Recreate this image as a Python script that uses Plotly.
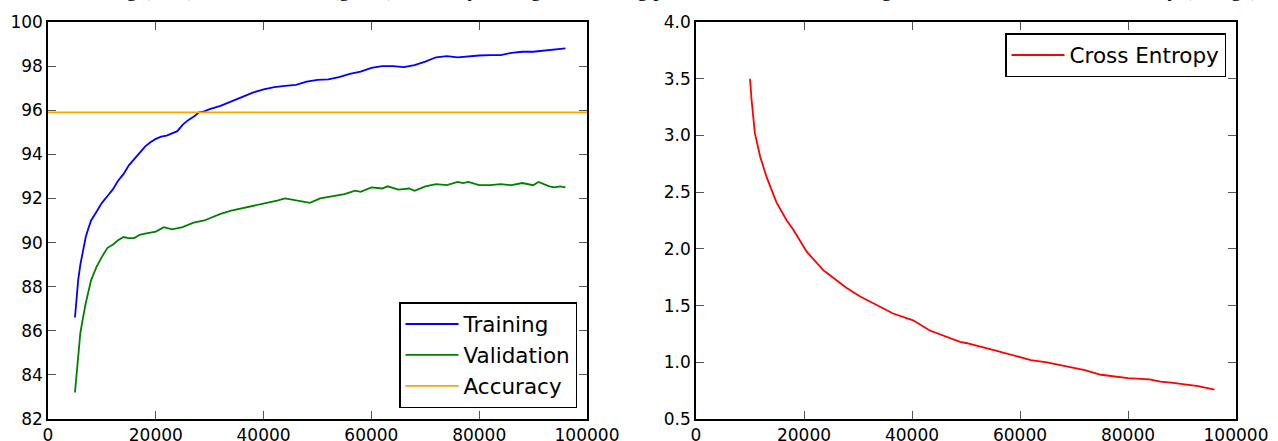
import plotly.graph_objects as go

# ---------------- data ----------------
train_x = [5000, 5300, 5600, 6000, 6500, 7000, 7500, 8000, 9000, 10000, 11000, 12000,
           13000, 14000, 15000, 16000, 17000, 18000, 19000, 20000, 21000, 22000, 23000,
           24000, 25000, 26000, 27000, 28000, 29000, 30000, 32000, 34000, 36000, 38000,
           40000, 42000, 44000, 46000, 48000, 50000, 52000, 54000, 56000, 58000, 60000,
           62000, 64000, 66000, 68000, 70000, 72000, 74000, 76000, 78000, 80000, 82000,
           84000, 86000, 88000, 90000, 92000, 94000, 96000]
train_y = [86.6, 87.6, 88.3, 89.0, 89.7, 90.25, 90.65, 91.0, 91.4, 91.8, 92.1, 92.4,
           92.8, 93.1, 93.5, 93.8, 94.1, 94.35, 94.55, 94.7, 94.8, 94.85, 94.95,
           95.05, 95.35, 95.55, 95.7, 95.9, 95.95, 96.05, 96.2, 96.4, 96.6, 96.8,
           96.95, 97.05, 97.1, 97.15, 97.3, 97.38, 97.4, 97.5, 97.65, 97.75, 97.92,
           98.0, 98.0, 97.95, 98.05, 98.2, 98.4, 98.45, 98.4, 98.45, 98.48, 98.5,
           98.5, 98.6, 98.65, 98.65, 98.7, 98.75, 98.8]

val_x = [5000, 5500, 6000, 6500, 7000, 8000, 9000, 10000, 11000, 12000, 13000, 14000,
         15000, 16000, 17000, 18000, 20000, 21500, 23000, 25000, 27000, 29000, 30000,
         32000, 34000, 36000, 38000, 40000, 42500, 44000, 46000, 48600, 50500, 53000,
         55000, 57000, 58000, 60000, 62000, 63000, 65000, 67000, 68000, 70000, 72000,
         74000, 76000, 77000, 78000, 80000, 82000, 84000, 86000, 88000, 90000, 91000,
         93000, 94000, 95000, 96000]
val_y = [83.2, 84.7, 85.9, 86.6, 87.25, 88.3, 88.9, 89.35, 89.75, 89.9, 90.1, 90.25,
         90.2, 90.2, 90.35, 90.4, 90.5, 90.7, 90.6, 90.7, 90.9, 91.0, 91.1,
         91.3, 91.45, 91.55, 91.65, 91.75, 91.9, 92.0, 91.9, 91.8, 92.0, 92.1,
         92.2, 92.35, 92.3, 92.5, 92.45, 92.55, 92.4, 92.45, 92.35, 92.55, 92.65,
         92.6, 92.75, 92.7, 92.75, 92.6, 92.6, 92.65, 92.6, 92.7, 92.6, 92.75,
         92.55, 92.5, 92.55, 92.5]

acc_x = [0, 100000]
acc_y = [95.9, 95.9]

ce_x = [10000, 10300, 10900, 11900, 13100, 14300, 14900, 16800, 18000, 20500, 23600,
        24200, 27900, 30400, 32800, 35300, 36500, 40200, 43300, 48900, 50000, 55000,
        60000, 62000, 65000, 70000, 72000, 75000, 80000, 84000, 86000, 88000, 90000,
        93000, 96000]
ce_y = [3.5, 3.31, 3.02, 2.81, 2.63, 2.49, 2.41, 2.25, 2.17, 1.975, 1.81,
        1.79, 1.655, 1.58, 1.52, 1.46, 1.43, 1.37, 1.28, 1.18, 1.17, 1.11,
        1.05, 1.02, 1.0, 0.95, 0.93, 0.89, 0.86, 0.85, 0.83, 0.82, 0.81,
        0.79, 0.76]

acc_ticks = [82, 84, 86, 88, 90, 92, 94, 96, 98, 100]
ce_ticks = [0.5, 1.0, 1.5, 2.0, 2.5, 3.0, 3.5, 4.0]
x_ticks = [0, 20000, 40000, 60000, 80000, 100000]

caption = ("Training (blue) and validation (green) accuracy during the training process "
           "of the network, together with the final test accuracy (orange) and the cross "
           "entropy (red) loss, plotted over the training iterations.")

# ---------------- figure ----------------
W, H = 1278, 441
fig = go.Figure()

lw = 1.8
fig.add_trace(go.Scatter(x=train_x, y=train_y, mode="lines", name="Training",
                         line=dict(color="#0000ff", width=lw), xaxis="x", yaxis="y",
                         legend="legend"))
fig.add_trace(go.Scatter(x=val_x, y=val_y, mode="lines", name="Validation",
                         line=dict(color="#008000", width=lw), xaxis="x", yaxis="y",
                         legend="legend"))
fig.add_trace(go.Scatter(x=acc_x, y=acc_y, mode="lines", name="Accuracy",
                         line=dict(color="#ffa500", width=lw), xaxis="x", yaxis="y",
                         legend="legend"))
fig.add_trace(go.Scatter(x=ce_x, y=ce_y, mode="lines", name="Cross Entropy",
                         line=dict(color="#ff0000", width=lw), xaxis="x2", yaxis="y2",
                         legend="legend2"))

tickfont = dict(family="DejaVu Sans", size=17, color="black")
axis_common = dict(showline=True, linecolor="black", linewidth=1.5, mirror="ticks",
                   ticks="inside", ticklen=8, tickwidth=1, tickcolor="#555555",
                   showgrid=False, zeroline=False, tickfont=tickfont, automargin=False)

legend_font = dict(family="DejaVu Sans", size=21.5, color="black")

fig.update_layout(
    width=W, height=H,
    margin=dict(l=0, r=0, t=22, b=22),
    paper_bgcolor="white", plot_bgcolor="white",
    font=dict(family="DejaVu Sans", color="black"),
    xaxis=dict(domain=[48 / W, 587 / W], range=[0, 100000], tickvals=x_ticks,
               tickformat="d", anchor="y", **axis_common),
    yaxis=dict(domain=[0, 1], range=[82, 100], tickvals=acc_ticks, anchor="x",
               **axis_common),
    xaxis2=dict(domain=[696 / W, 1236 / W], range=[0, 100000], tickvals=x_ticks,
                tickformat="d", anchor="y2", **axis_common),
    yaxis2=dict(domain=[0, 1], range=[0.5, 4.0], tickvals=ce_ticks, tickformat=".1f",
                anchor="x2", **axis_common),
    legend=dict(x=577 / W, xanchor="right", y=(419 - 408) / 397, yanchor="bottom",
                xref="paper", yref="paper", itemwidth=53,
                bordercolor="black", borderwidth=1.5, bgcolor="white",
                font=legend_font),
    legend2=dict(x=1226 / W, xanchor="right", y=(419 - 33) / 397, yanchor="top",
                 xref="paper", yref="paper", itemwidth=53,
                 bordercolor="black", borderwidth=1.5, bgcolor="white",
                 font=legend_font),
    showlegend=True,
    annotations=[dict(text=caption, xref="paper", yref="paper", x=60 / W, y=1 + 12 / 397,
                      xanchor="left", yanchor="bottom", yshift=7, showarrow=False,
                      font=dict(family="Liberation Serif", size=22, color="black"))],
)

fig.write_html("out.html", config={"displayModeBar": False},
               post_script="document.body.style.margin='0';document.body.style.overflow='hidden';")
